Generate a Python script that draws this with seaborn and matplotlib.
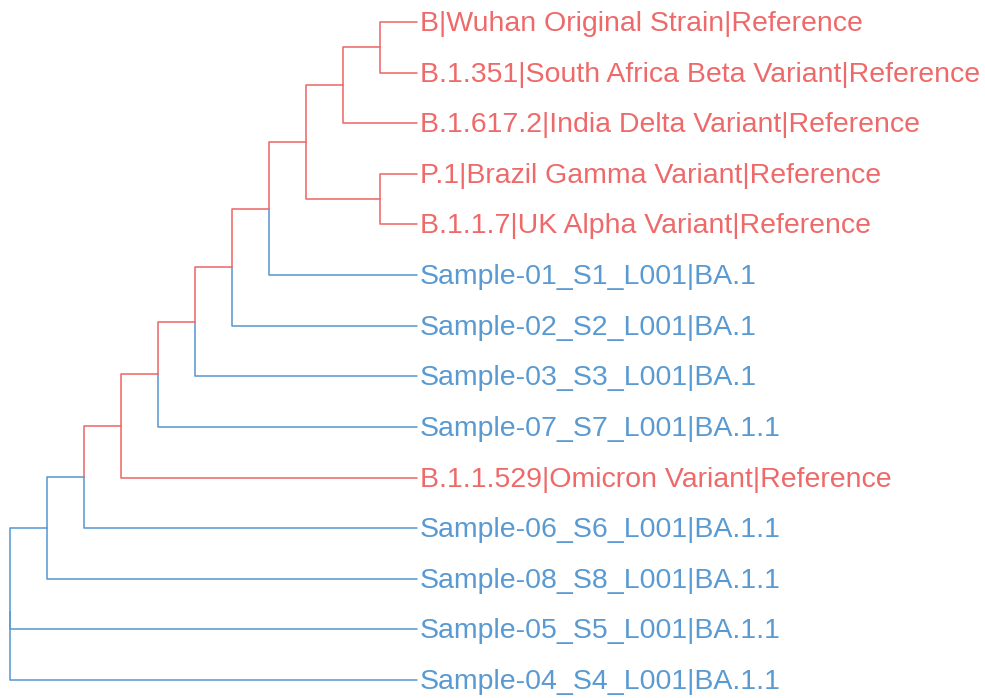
import matplotlib
matplotlib.use("Agg")
import matplotlib.pyplot as plt
import seaborn as sns
import pandas as pd

# ---- data -------------------------------------------------------------
tip_labels = [
    "B|Wuhan Original Strain|Reference",
    "B.1.351|South Africa Beta Variant|Reference",
    "B.1.617.2|India Delta Variant|Reference",
    "P.1|Brazil Gamma Variant|Reference",
    "B.1.1.7|UK Alpha Variant|Reference",
    "Sample-01_S1_L001|BA.1",
    "Sample-02_S2_L001|BA.1",
    "Sample-03_S3_L001|BA.1",
    "Sample-07_S7_L001|BA.1.1",
    "B.1.1.529|Omicron Variant|Reference",
    "Sample-06_S6_L001|BA.1.1",
    "Sample-08_S8_L001|BA.1.1",
    "Sample-05_S5_L001|BA.1.1",
    "Sample-04_S4_L001|BA.1.1",
]
tip_groups = ["Reference"] * 5 + ["Sample"] * 4 + ["Reference"] + ["Sample"] * 4
# tree topology (tip indices), cladogram (no branch lengths)
tree_topology = (((((((((((0, 1), 2), (3, 4)), 5), 6), 7), 8), 9), 10), 11), 12, 13)
group_colors = {"Reference": "#EE6A6A", "Sample": "#5A9AD2"}

# ---- layout -----------------------------------------------------------
nodes = {}   # id -> dict(children, tips, height, y)
counter = [len(tip_labels)]

def build(t):
    if isinstance(t, int):
        nodes[t] = dict(children=[], tips={t}, height=0, y=float(t))
        return t
    kids = [build(c) for c in t]
    nid = counter[0]
    counter[0] += 1
    tips = set().union(*[nodes[k]["tips"] for k in kids])
    nodes[nid] = dict(children=kids, tips=tips,
                      height=1 + max(nodes[k]["height"] for k in kids),
                      y=sum(nodes[k]["y"] for k in kids) / len(kids))
    return nid

root = build(tree_topology)
max_h = nodes[root]["height"]
for n in nodes.values():
    n["x"] = max_h - n["height"]

refs = {i for i, g in enumerate(tip_groups) if g == "Reference"}
# MRCA of references
mrca = min((k for k, n in nodes.items() if refs <= n["tips"]),
           key=lambda k: len(nodes[k]["tips"]))
red_nodes = {k for k, n in nodes.items()
             if n["tips"] & refs and n["tips"] <= nodes[mrca]["tips"]}

rows = []
seg = 0
def edges(pid):
    global seg
    p = nodes[pid]
    for c in p["children"]:
        ch = nodes[c]
        grp = "Reference" if c in red_nodes else "Sample"
        for order, (xx, yy) in enumerate([(p["x"], p["y"]), (p["x"], ch["y"]), (ch["x"], ch["y"])]):
            rows.append(dict(seg=seg, order=order, x=xx, y=yy, clade=grp))
        seg += 1
        edges(c)
edges(root)
df = pd.DataFrame(rows)

# ---- plot -------------------------------------------------------------
sns.set_theme(style="white")
plt.rcParams["font.family"] = ["Liberation Sans", "DejaVu Sans"]
fig = plt.figure(figsize=(9.85, 6.98), dpi=100)
ax = fig.add_axes([0, 0, 1, 1])

sns.lineplot(data=df, x="x", y="y", units="seg", estimator=None, sort=False,
             hue="clade", palette=group_colors, legend=False, lw=1.15, ax=ax)

for i, lab in enumerate(tip_labels):
    ax.text(max_h + 0.08, i - 0.02, lab, color=group_colors[tip_groups[i]],
            fontsize=20.5, va="center_baseline", ha="left")

step_x = 37.0
step_y = 50.62
ax.set_xlim(-10 / step_x, (985 - 10) / step_x)
ax.set_ylim((698 - 22) / step_y, -22 / step_y)
ax.axis("off")
fig.savefig("out.png", dpi=100, facecolor="white")
